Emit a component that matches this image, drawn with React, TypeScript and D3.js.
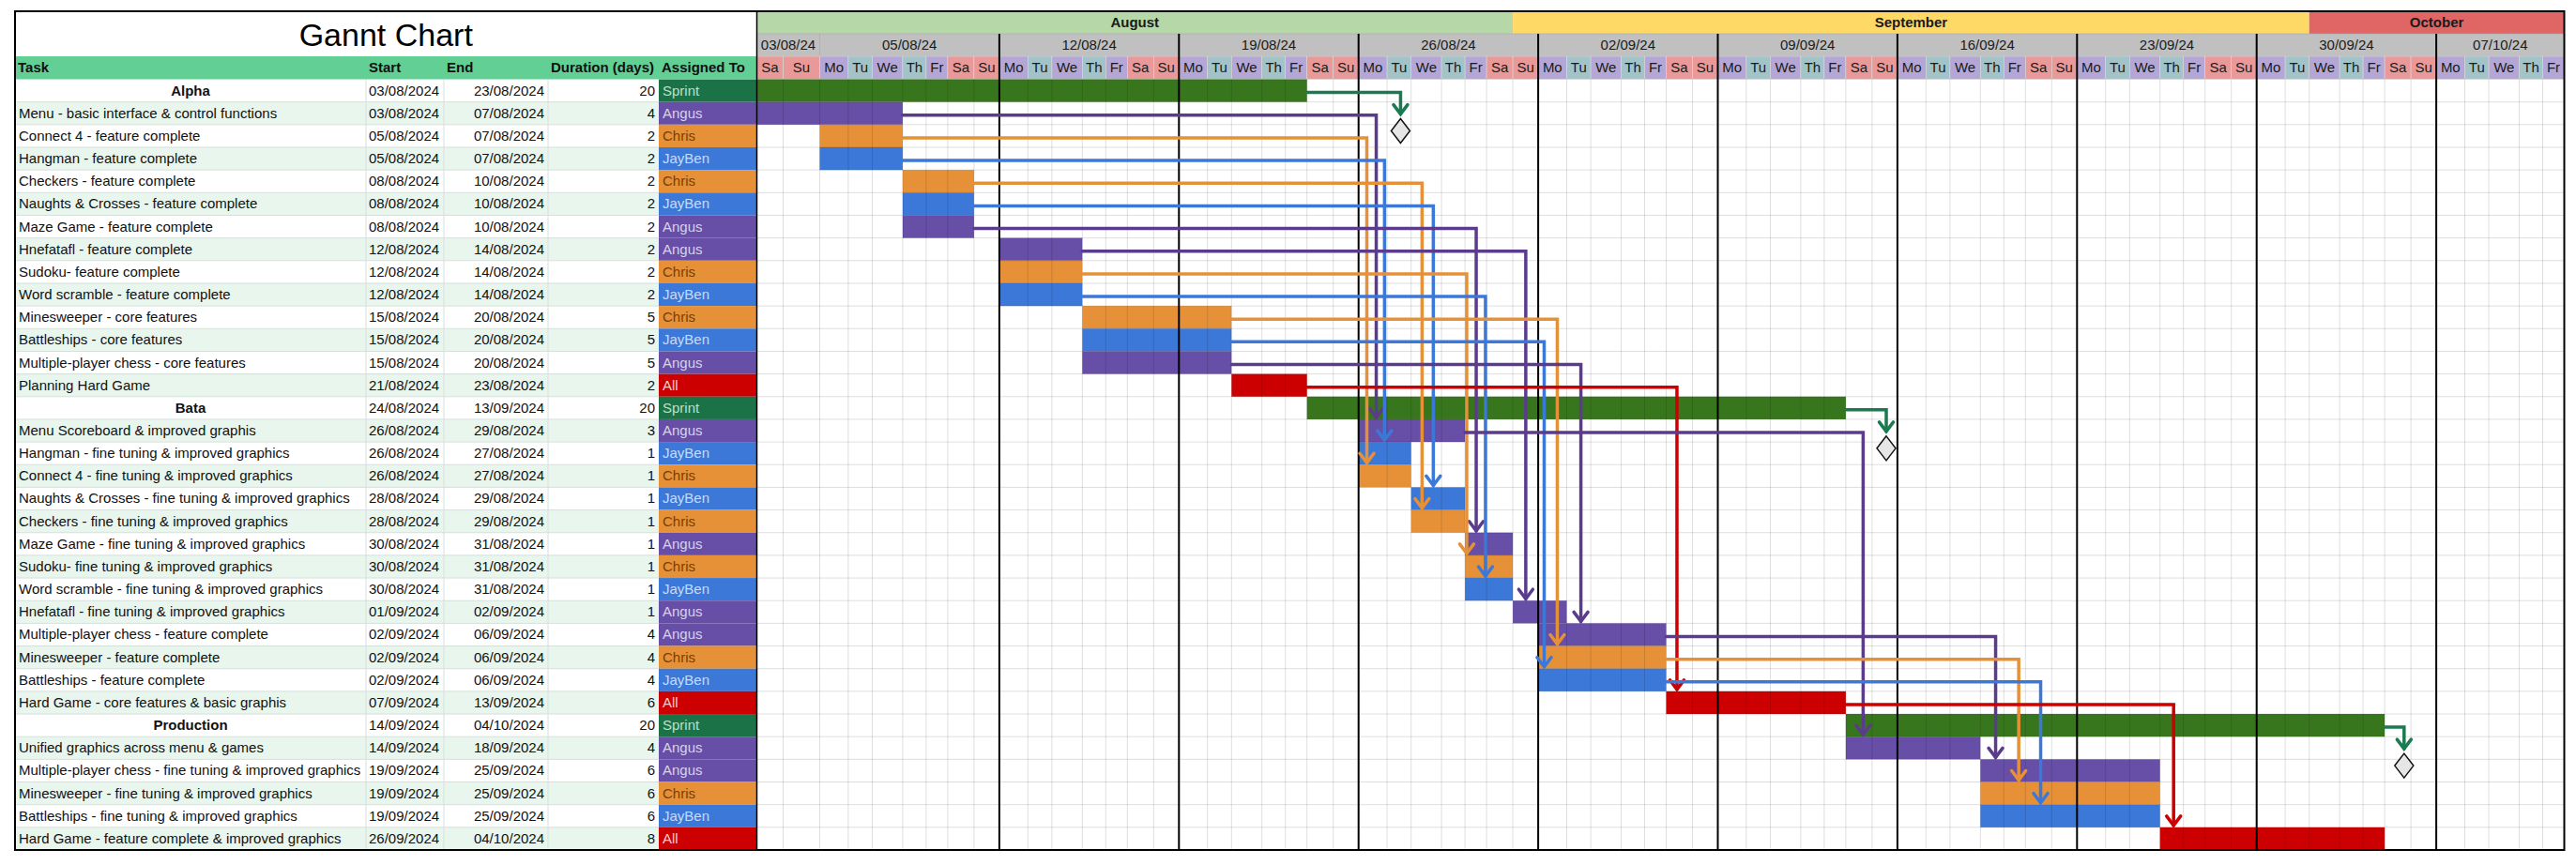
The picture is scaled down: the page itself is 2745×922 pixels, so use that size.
import { useEffect, useRef } from 'react';
import * as d3 from 'd3';

// ---- table data ----
const taskNames = [
    'Alpha',
    'Menu - basic interface & control functions',
    'Connect 4 - feature complete',
    'Hangman - feature complete',
    'Checkers  - feature complete',
    'Naughts & Crosses  - feature complete',
    'Maze Game - feature complete',
    'Hnefatafl - feature complete',
    'Sudoku- feature complete',
    'Word scramble - feature complete',
    'Minesweeper - core features',
    'Battleships - core features',
    'Multiple-player chess - core features',
    'Planning Hard Game',
    'Bata',
    'Menu Scoreboard &  improved graphis',
    'Hangman - fine tuning & improved graphics',
    'Connect 4 - fine tuning & improved graphics',
    'Naughts & Crosses - fine tuning & improved graphics',
    'Checkers  - fine tuning & improved graphics',
    'Maze Game - fine tuning & improved graphics',
    'Sudoku- fine tuning & improved graphics',
    'Word scramble - fine tuning & improved graphics',
    'Hnefatafl - fine tuning & improved graphics',
    'Multiple-player chess - feature complete',
    'Minesweeper - feature complete',
    'Battleships - feature complete',
    'Hard Game - core features & basic graphis',
    'Production',
    'Unified graphics across menu & games',
    'Multiple-player chess - fine tuning & improved graphics',
    'Minesweeper - fine tuning & improved graphics',
    'Battleships - fine tuning & improved graphics',
    'Hard Game - feature complete & improved graphics',
];

const startDates = [
    '03/08/2024', '03/08/2024', '05/08/2024', '05/08/2024', '08/08/2024', '08/08/2024', '08/08/2024',
    '12/08/2024', '12/08/2024', '12/08/2024', '15/08/2024', '15/08/2024', '15/08/2024', '21/08/2024',
    '24/08/2024', '26/08/2024', '26/08/2024', '26/08/2024', '28/08/2024', '28/08/2024', '30/08/2024',
    '30/08/2024', '30/08/2024', '01/09/2024', '02/09/2024', '02/09/2024', '02/09/2024', '07/09/2024',
    '14/09/2024', '14/09/2024', '19/09/2024', '19/09/2024', '19/09/2024', '26/09/2024',
];

const endDates = [
    '23/08/2024', '07/08/2024', '07/08/2024', '07/08/2024', '10/08/2024', '10/08/2024', '10/08/2024',
    '14/08/2024', '14/08/2024', '14/08/2024', '20/08/2024', '20/08/2024', '20/08/2024', '23/08/2024',
    '13/09/2024', '29/08/2024', '27/08/2024', '27/08/2024', '29/08/2024', '29/08/2024', '31/08/2024',
    '31/08/2024', '31/08/2024', '02/09/2024', '06/09/2024', '06/09/2024', '06/09/2024', '13/09/2024',
    '04/10/2024', '18/09/2024', '25/09/2024', '25/09/2024', '25/09/2024', '04/10/2024',
];

const durations = [20, 4, 2, 2, 2, 2, 2, 2, 2, 2, 5, 5, 5, 2, 20, 3, 1, 1, 1, 1, 1, 1, 1, 1, 4, 4, 4, 6, 20, 4, 6, 6, 6, 8];

const assignees = [
    'Sprint', 'Angus', 'Chris', 'JayBen', 'Chris', 'JayBen', 'Angus', 'Angus', 'Chris', 'JayBen',
    'Chris', 'JayBen', 'Angus', 'All', 'Sprint', 'Angus', 'JayBen', 'Chris', 'JayBen', 'Chris',
    'Angus', 'Chris', 'JayBen', 'Angus', 'Angus', 'Chris', 'JayBen', 'All', 'Sprint', 'Angus',
    'Angus', 'Chris', 'JayBen', 'All',
];

const columnHeaders = ['Task', 'Start', 'End', 'Duration (days)', 'Assigned To'];

// ---- timeline header ----
const monthLabels = ['August', 'September', 'October'];
const monthStarts = ['03/08/2024', '01/09/2024', '02/10/2024'];
const weekLabels = ['03/08/24', '05/08/24', '12/08/24', '19/08/24', '26/08/24', '02/09/24', '09/09/24', '16/09/24', '23/09/24', '30/09/24', '07/10/24'];
const dayNames = ['Mo', 'Tu', 'We', 'Th', 'Fr', 'Sa', 'Su'];

// ---- dependencies (row -> row) and where the arrow drops ----
const depFrom = [1, 2, 3, 4, 5, 6, 7, 8, 9, 10, 11, 12, 13, 15, 24, 25, 26, 27];
const depTo = [15, 17, 16, 19, 18, 20, 23, 21, 22, 25, 26, 24, 27, 29, 30, 31, 32, 33];
const depDropDates = [
    '26/08/2024', '26/08/2024', '26/08/2024', '28/08/2024', '28/08/2024', '30/08/2024', '01/09/2024',
    '30/08/2024', '30/08/2024', '02/09/2024', '02/09/2024', '03/09/2024', '07/09/2024', '14/09/2024',
    '19/09/2024', '20/09/2024', '21/09/2024', '26/09/2024',
];

// ---- sprint milestones ----
const milestoneRows = [0, 14, 28];
const milestoneDates = ['27/08/2024', '15/09/2024', '05/10/2024'];

// layout (where inside a day cell each arrow drops)
const depDropOffsets = [0.62, 0.29, 0.91, 0.36, 0.73, 0.52, 0.51, 0.08, 0.95, 0.67, 0.21, 0.59, 0.41, 0.66, 0.65, 0.69, 0.58, 0.58];
const milestoneOffsets = [0.56, 0.56, 0.74];

const W = 2745;
const H = 922;
const FONT = "'Liberation Sans', Arial, sans-serif";
const colEdges = [16, 390, 473, 584, 702, 806.5];
const TOP = 12;
const WEEK_TOP = 36;
const DAY_TOP = 60;
const ROW_TOP = 84.5;
const ROW_BOTTOM = 906;
const CHART_LEFT = 806.5;
const dowWidths = [30.4, 25.6, 32.4, 25, 23, 28, 27];

const colors: Record<string, { bar: string; cell: string; text: string; line: string }> = {
    Sprint: { bar: '#38761d', cell: '#1b7246', text: '#b7e1cd', line: '#1b7a50' },
    Angus: { bar: '#674ea7', cell: '#674ea7', text: '#d9d2e9', line: '#5b3c8c' },
    Chris: { bar: '#e69138', cell: '#e69138', text: '#783f04', line: '#e69138' },
    JayBen: { bar: '#3c78d8', cell: '#3c78d8', text: '#c9daf8', line: '#3c78d8' },
    All: { bar: '#cc0000', cell: '#cc0000', text: '#f4cccc', line: '#cc0000' },
};
const monthColors = ['#b6d7a8', '#ffd966', '#e06666'];
const dayColors = ['#b4a7d6', '#a2c4c9', '#b4a7d6', '#a2c4c9', '#b4a7d6', '#ea9999', '#ea9999'];

export default function App() {
    const svgRef = useRef<SVGSVGElement>(null);

    useEffect(() => {
        if (!svgRef.current) return;
        const svg = d3.select(svgRef.current);
        svg.selectAll('*').remove();

        const parse = d3.timeParse('%d/%m/%Y');
        const parseShort = d3.timeParse('%d/%m/%y');
        const chartStart = parse('03/08/2024')!;
        const chartEnd = parse('12/10/2024')!;
        const days = d3.timeDay.range(chartStart, chartEnd);
        const idx = (d: Date) => d3.timeDay.count(chartStart, d);
        const dow = (d: Date) => (d.getDay() + 6) % 7;

        // column widths differ per weekday (spreadsheet columns)
        const widths = days.map((d, i) => (i === 1 ? 39 : dowWidths[dow(d)]));
        const edges = [CHART_LEFT, ...Array.from(d3.cumsum(widths), v => CHART_LEFT + v)];
        const x = d3.scaleLinear().domain(d3.range(days.length + 1)).range(edges);
        const CHART_RIGHT = x(days.length);

        const n = taskNames.length;
        const y = d3.scaleBand<number>().domain(d3.range(n)).range([ROW_TOP, ROW_BOTTOM]);
        const rh = y.bandwidth();
        const yc = (i: number) => (y(i) as number) + rh / 2;

        const g = svg.append('g').attr('font-family', FONT).attr('font-size', 15)
            .style('white-space', 'pre');

        // ---- left table ----
        const rows = g.append('g');
        rows.selectAll('rect.bg')
            .data(d3.range(n))
            .join('rect')
            .attr('x', colEdges[0]).attr('width', colEdges[4] - colEdges[0])
            .attr('y', i => y(i) as number).attr('height', rh)
            .attr('fill', i => (i % 2 ? '#e8f6ee' : '#ffffff'));
        rows.selectAll('rect.as')
            .data(d3.range(n))
            .join('rect')
            .attr('x', colEdges[4]).attr('width', colEdges[5] - colEdges[4])
            .attr('y', i => y(i) as number).attr('height', rh)
            .attr('fill', i => colors[assignees[i]].cell);

        // table grid
        rows.selectAll('line.h')
            .data(d3.range(n))
            .join('line')
            .attr('x1', colEdges[0]).attr('x2', colEdges[4])
            .attr('y1', i => (y(i) as number) + rh).attr('y2', i => (y(i) as number) + rh)
            .attr('stroke', '#d6e0da').attr('stroke-width', 1);
        rows.selectAll('line.v')
            .data(colEdges.slice(1, 4))
            .join('line')
            .attr('x1', d => d).attr('x2', d => d)
            .attr('y1', ROW_TOP).attr('y2', ROW_BOTTOM)
            .attr('stroke', '#d6e0da').attr('stroke-width', 1);

        // header row
        g.append('rect').attr('x', colEdges[0]).attr('y', DAY_TOP)
            .attr('width', colEdges[5] - colEdges[0]).attr('height', ROW_TOP - DAY_TOP)
            .attr('fill', '#62d095');
        g.selectAll('text.hdr')
            .data(columnHeaders)
            .join('text')
            .attr('x', (_, i) => colEdges[i] + 3)
            .attr('y', (DAY_TOP + ROW_TOP) / 2 + 5)
            .attr('font-weight', 'bold')
            .attr('fill', '#111')
            .text(d => d);

        // title
        g.append('text')
            .attr('x', (colEdges[0] + colEdges[5]) / 2).attr('y', 49)
            .attr('text-anchor', 'middle').attr('font-size', 34).attr('fill', '#000')
            .text('Gannt Chart');

        // row texts
        const isSection = (i: number) => assignees[i] === 'Sprint';
        rows.selectAll('text.task')
            .data(d3.range(n))
            .join('text')
            .attr('x', i => (isSection(i) ? (colEdges[0] + colEdges[1]) / 2 : colEdges[0] + 4))
            .attr('y', i => yc(i) + 5)
            .attr('text-anchor', i => (isSection(i) ? 'middle' : 'start'))
            .attr('font-weight', i => (isSection(i) ? 'bold' : 'normal'))
            .attr('fill', '#111')
            .text(i => taskNames[i]);
        rows.selectAll('text.start')
            .data(d3.range(n))
            .join('text')
            .attr('x', colEdges[1] + 3).attr('y', i => yc(i) + 5)
            .attr('fill', '#111')
            .text(i => startDates[i]);
        rows.selectAll('text.end')
            .data(d3.range(n))
            .join('text')
            .attr('x', colEdges[3] - 4).attr('y', i => yc(i) + 5)
            .attr('text-anchor', 'end').attr('fill', '#111')
            .text(i => endDates[i]);
        rows.selectAll('text.dur')
            .data(d3.range(n))
            .join('text')
            .attr('x', colEdges[4] - 4).attr('y', i => yc(i) + 5)
            .attr('text-anchor', 'end').attr('fill', '#111')
            .text(i => durations[i]);
        rows.selectAll('text.who')
            .data(d3.range(n))
            .join('text')
            .attr('x', colEdges[4] + 4).attr('y', i => yc(i) + 5)
            .attr('fill', i => colors[assignees[i]].text)
            .text(i => assignees[i]);

        // ---- timeline header ----
        const head = g.append('g');
        const mStart = monthStarts.map(s => idx(parse(s)!));
        const mEnd = [...mStart.slice(1), days.length];
        monthLabels.forEach((m, i) => {
            head.append('rect')
                .attr('x', x(mStart[i])).attr('y', TOP)
                .attr('width', x(mEnd[i]) - x(mStart[i])).attr('height', WEEK_TOP - TOP)
                .attr('fill', monthColors[i]);
            head.append('text')
                .attr('x', (x(mStart[i]) + x(mEnd[i])) / 2).attr('y', (TOP + WEEK_TOP) / 2 + 5)
                .attr('text-anchor', 'middle').attr('font-weight', 'bold').attr('fill', '#1a1a1a')
                .text(m);
        });

        const wStart = weekLabels.map(s => idx(parseShort(s)!));
        const wEnd = [...wStart.slice(1), days.length];
        weekLabels.forEach((w, i) => {
            head.append('rect')
                .attr('x', x(wStart[i])).attr('y', WEEK_TOP)
                .attr('width', x(wEnd[i]) - x(wStart[i])).attr('height', DAY_TOP - WEEK_TOP)
                .attr('fill', '#c0c0c0').attr('stroke', '#a9a9a9').attr('stroke-width', 0.6);
            head.append('text')
                .attr('x', (x(wStart[i]) + x(wEnd[i])) / 2).attr('y', (WEEK_TOP + DAY_TOP) / 2 + 5)
                .attr('text-anchor', 'middle').attr('fill', '#1a1a1a')
                .text(w);
        });

        head.selectAll('rect.day')
            .data(days)
            .join('rect')
            .attr('x', (_, i) => x(i)).attr('y', DAY_TOP)
            .attr('width', (_, i) => x(i + 1) - x(i)).attr('height', ROW_TOP - DAY_TOP)
            .attr('fill', d => dayColors[dow(d)])
            .attr('stroke', '#d8d8d8').attr('stroke-width', 0.6);
        head.selectAll('text.day')
            .data(days)
            .join('text')
            .attr('x', (_, i) => (x(i) + x(i + 1)) / 2).attr('y', (DAY_TOP + ROW_TOP) / 2 + 5)
            .attr('text-anchor', 'middle').attr('fill', '#1a1a1a')
            .text(d => dayNames[dow(d)]);

        // ---- bars ----
        const body = g.append('g');
        body.selectAll('rect.bar')
            .data(d3.range(n))
            .join('rect')
            .attr('x', i => x(idx(parse(startDates[i])!)))
            .attr('width', i => x(idx(parse(endDates[i])!) + 1) - x(idx(parse(startDates[i])!)))
            .attr('y', i => y(i) as number).attr('height', rh)
            .attr('fill', i => colors[assignees[i]].bar);

        // grid on top, faint
        body.selectAll('line.gv')
            .data(d3.range(1, days.length))
            .join('line')
            .attr('x1', i => x(i)).attr('x2', i => x(i))
            .attr('y1', ROW_TOP).attr('y2', ROW_BOTTOM)
            .attr('stroke', '#000').attr('stroke-opacity', 0.13).attr('stroke-width', 1);
        body.selectAll('line.gh')
            .data(d3.range(1, n))
            .join('line')
            .attr('x1', CHART_LEFT).attr('x2', CHART_RIGHT)
            .attr('y1', i => y(i) as number).attr('y2', i => y(i) as number)
            .attr('stroke', '#000').attr('stroke-opacity', 0.13).attr('stroke-width', 1);

        // week separators
        body.selectAll('line.week')
            .data(wStart.slice(2))
            .join('line')
            .attr('x1', d => x(d)).attr('x2', d => x(d))
            .attr('y1', WEEK_TOP).attr('y2', ROW_BOTTOM)
            .attr('stroke', '#000').attr('stroke-width', 2);

        // ---- dependency arrows ----
        const arrows = g.append('g').attr('fill', 'none').attr('stroke-width', 3.5)
            .attr('stroke-linecap', 'round');
        const dropX = (date: string, off: number) => {
            const k = idx(parse(date)!);
            return x(k) + (x(k + 1) - x(k)) * off;
        };
        const chevron = (cx: number, tip: number) => {
            const p = d3.path();
            p.moveTo(cx - 7.5, tip - 10);
            p.lineTo(cx, tip);
            p.lineTo(cx + 7.5, tip - 10);
            return p.toString();
        };
        depFrom.forEach((from, k) => {
            const to = depTo[k];
            const x0 = x(idx(parse(endDates[from])!) + 1);
            const y0 = yc(from) + 2;
            const xd = dropX(depDropDates[k], depDropOffsets[k]);
            const tip = (y(to) as number) - 2;
            const col = colors[assignees[from]].line;
            const p = d3.path();
            p.moveTo(x0, y0);
            p.lineTo(xd, y0);
            p.lineTo(xd, tip);
            arrows.append('path').attr('d', p.toString()).attr('stroke', col);
            arrows.append('path').attr('d', chevron(xd, tip)).attr('stroke', col);
        });

        // ---- milestones ----
        milestoneRows.forEach((r, k) => {
            const x0 = x(idx(parse(endDates[r])!) + 1);
            const y0 = yc(r) + 2;
            const xd = dropX(milestoneDates[k], milestoneOffsets[k]);
            const tip = yc(r) + 25;
            const p = d3.path();
            p.moveTo(x0, y0);
            p.lineTo(xd, y0);
            p.lineTo(xd, tip);
            arrows.append('path').attr('d', p.toString()).attr('stroke', colors.Sprint.line);
            arrows.append('path').attr('d', chevron(xd, tip)).attr('stroke', colors.Sprint.line);
            const cy = yc(r) + 43;
            g.append('path')
                .attr('d', `M${xd},${cy - 13}L${xd + 10},${cy}L${xd},${cy + 13}L${xd - 10},${cy}Z`)
                .attr('fill', '#e6e6e6').attr('stroke', '#111').attr('stroke-width', 1.5);
        });

        // ---- borders ----
        g.append('line')
            .attr('x1', CHART_LEFT).attr('x2', CHART_LEFT).attr('y1', TOP).attr('y2', ROW_BOTTOM)
            .attr('stroke', '#000').attr('stroke-width', 1.5);
        g.append('rect')
            .attr('x', colEdges[0]).attr('y', TOP)
            .attr('width', CHART_RIGHT - colEdges[0]).attr('height', ROW_BOTTOM - TOP)
            .attr('fill', 'none').attr('stroke', '#000').attr('stroke-width', 2);
    }, []);

    return (
        <svg
            ref={svgRef}
            width={W}
            height={H}
            style={{ position: 'absolute', left: 0, top: 0, background: '#ffffff' }}
        />
    );
}
